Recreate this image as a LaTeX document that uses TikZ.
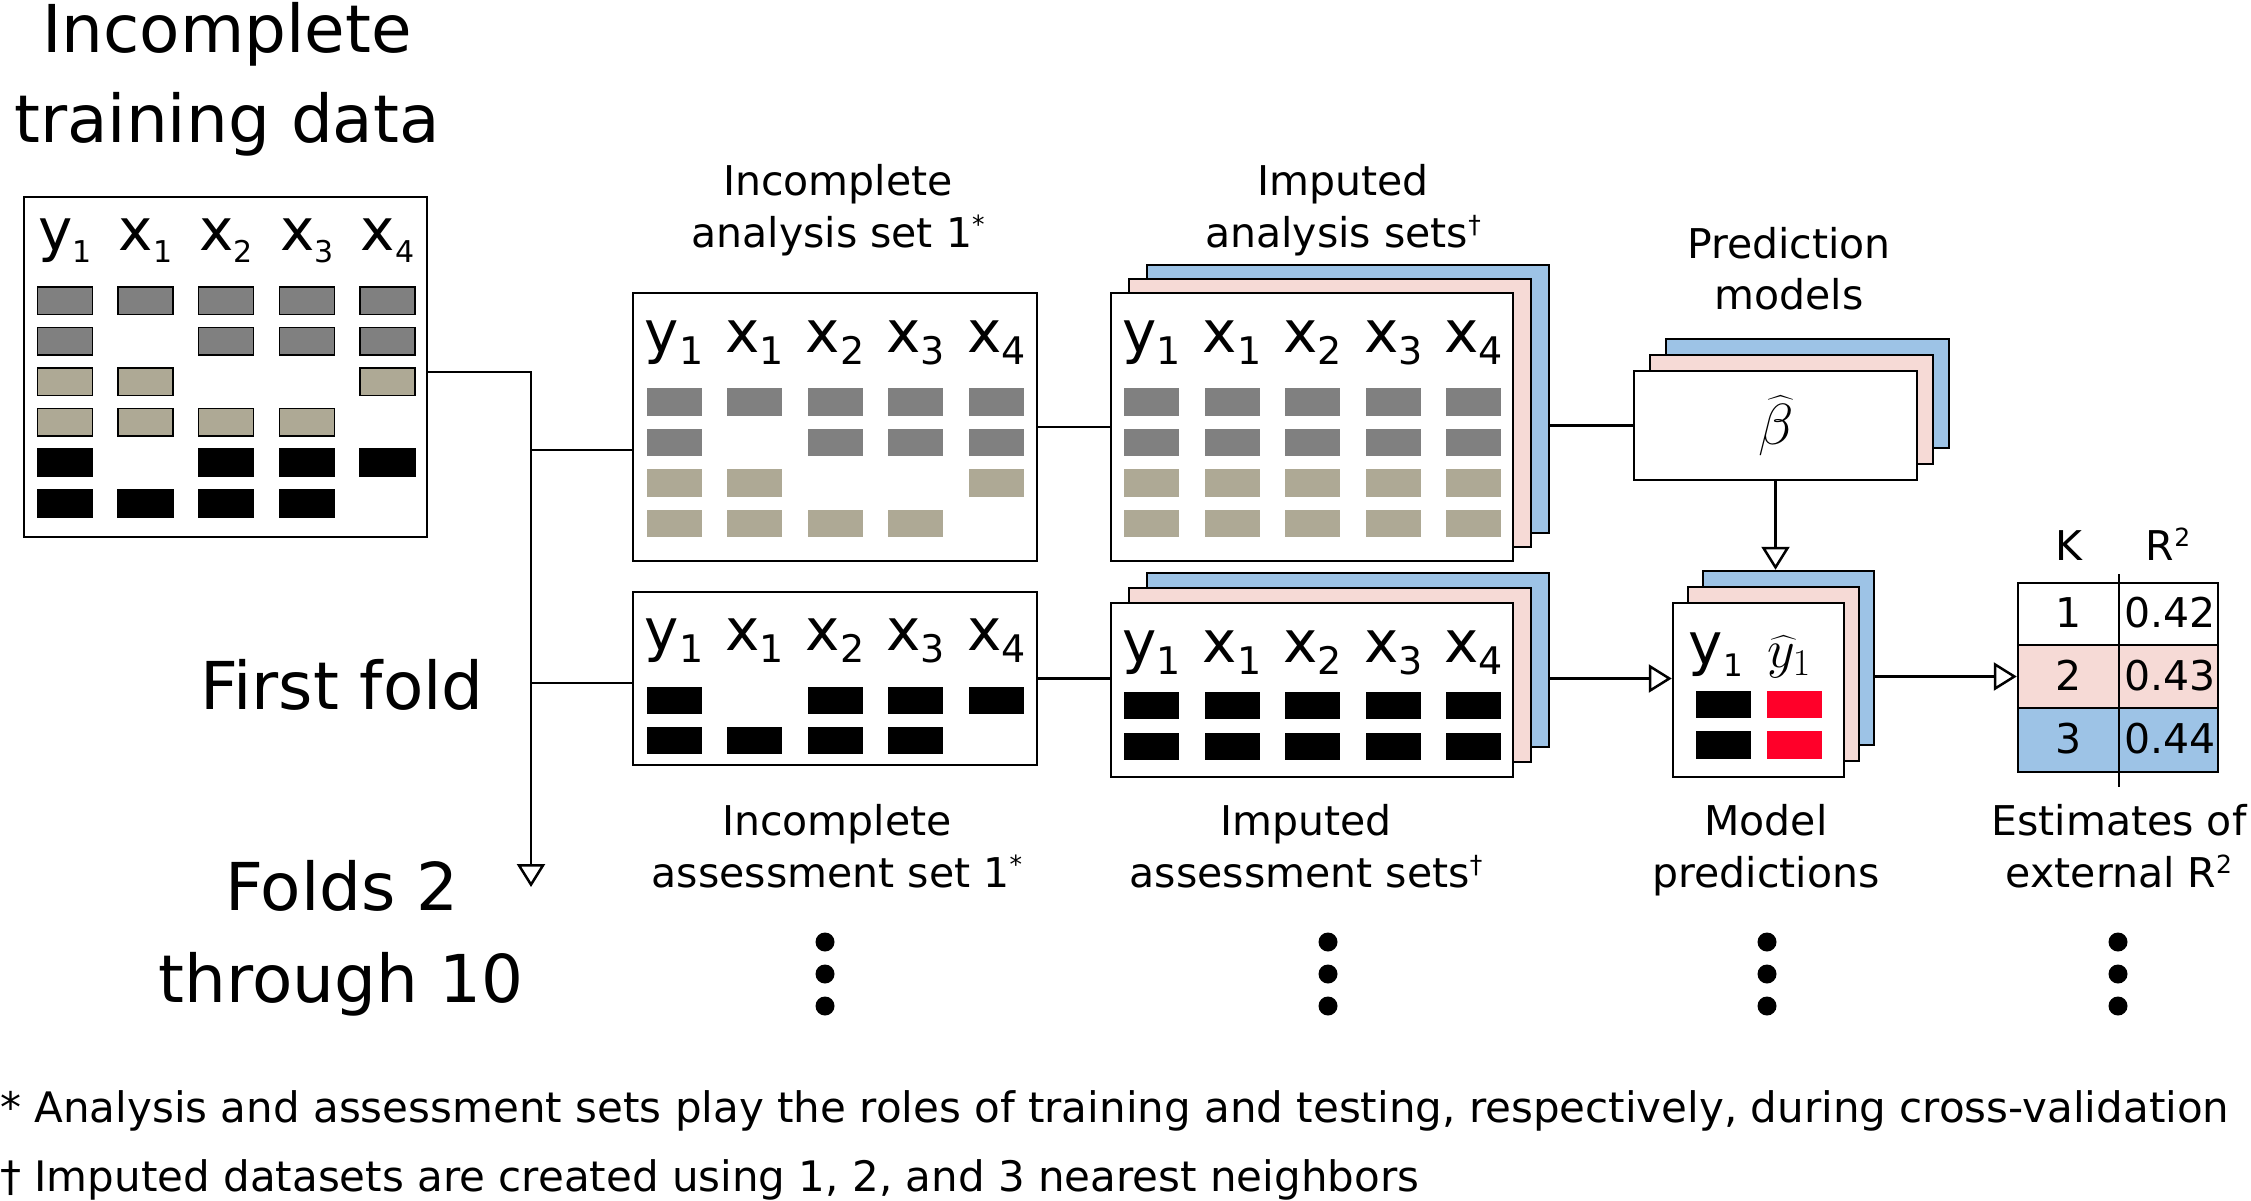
\RequirePackage{fix-cm}
\documentclass[tikz,border=0pt]{standalone}
\usepackage{exscale}
\usepackage[no-math]{fontspec}
\setmainfont{DejaVu Sans}
\usetikzlibrary{arrows.meta}
\definecolor{cgray}{RGB}{128,128,128}
\definecolor{ctan}{RGB}{174,169,149}
\definecolor{cpink}{RGB}{246,218,214}
\definecolor{cblue}{RGB}{157,195,230}
\definecolor{cred}{RGB}{255,0,41}
\newcommand{\fsz}[1]{\fontsize{#1}{#1}\selectfont}
\newcommand{\hsub}[2]{\raisebox{-0.22em}{\fsz{#1}#2}}
\newcommand{\mysup}[1]{\raisebox{0.32em}{\fsz{25}#1}}
\newcommand{\cellr}[4]{\path[#4] ({#1-27.5},{#2-13.75}) rectangle ({#1+27.5},{#2+13.75});}
\begin{document}
\begin{tikzpicture}[x=1pt,y=-1pt,
  box/.style={draw=black,line width=2.5pt,fill=white,inner sep=0pt},
  lab/.style={font=\fsz{41},inner sep=0pt,anchor=base},
  big/.style={font=\fsz{66},inner sep=0pt,anchor=base},
  hd/.style={font=\fsz{58},inner sep=0pt,anchor=base},
  foot/.style={font=\fsz{42},inner sep=0pt,anchor=base west},
  conn/.style={line width=2.5pt},
  arr/.style={conn,-{Triangle[open,length=23pt,width=28pt]}}]
\fill[white] (0,0) rectangle (2251,1200);
\useasboundingbox (0,0) rectangle (2251,1200);

% ---------- titles and side labels
\node[big] (t1) at (227,52) {Incomplete};
\node[big] (t2) at (227,142) {training data};
\node[big] (ff) at (342,709) {First fold};
\node[big] (f2a) at (342,910) {Folds 2};
\node[big] (f2b) at (341,1002) {through 10};

% ---------- training data box
\node[box,minimum width=403pt,minimum height=340pt] (train) at (225.5,367) {};
\foreach \vl/\vs [count=\i from 0] in {y/1,x/1,x/2,x/3,x/4}{
  \node[hd] (trh\i) at ({65+80.6*\i},250) {\vl\hsub{30}{\vs}};}
\foreach \j/\c/\cols in {0/cgray/{0,1,2,3,4},1/cgray/{0,2,3,4},2/ctan/{0,1,4},3/ctan/{0,1,2,3},4/black/{0,2,3,4},5/black/{0,1,2,3}}{
  \foreach \i in \cols {\cellr{65+80.6*\i}{300.5+40.6*\j}{}{fill=\c,draw=black,line width=1.5pt}}}

% ---------- incomplete analysis set
\node[box,minimum width=404pt,minimum height=268pt] (ana) at (835,427) {};
\foreach \vl/\vs [count=\i from 0] in {y/1,x/1,x/2,x/3,x/4}{
  \node[hd] (anh\i) at ({674+80.6*\i},352) {\vl\hsub{38}{\vs}};}
\foreach \j/\c/\cols in {0/cgray/{0,1,2,3,4},1/cgray/{0,2,3,4},2/ctan/{0,1,4},3/ctan/{0,1,2,3}}{
  \foreach \i in \cols {\cellr{674+80.6*\i}{402+40.5*\j}{}{fill=\c}}}

% ---------- imputed analysis sets
\node[box,fill=cblue,minimum width=402pt,minimum height=268pt] (impaB) at (1348,399) {};
\node[box,fill=cpink,minimum width=402pt,minimum height=268pt] (impaP) at (1330,413) {};
\node[box,minimum width=402pt,minimum height=268pt] (impa) at (1312,427) {};
\foreach \vl/\vs [count=\i from 0] in {y/1,x/1,x/2,x/3,x/4}{
  \node[hd] (iah\i) at ({1151.5+80.6*\i},352) {\vl\hsub{38}{\vs}};}
\foreach \j/\c in {0/cgray,1/cgray,2/ctan,3/ctan}{
  \foreach \i in {0,1,2,3,4} {\cellr{1151.5+80.6*\i}{402+40.5*\j}{}{fill=\c}}}

% ---------- incomplete assessment set
\node[box,minimum width=404pt,minimum height=173pt] (ass) at (835,678.5) {};
\foreach \vl/\vs [count=\i from 0] in {y/1,x/1,x/2,x/3,x/4}{
  \node[hd] (ash\i) at ({674+80.6*\i},650) {\vl\hsub{38}{\vs}};}
\foreach \j/\cols in {0/{0,2,3,4},1/{0,1,2,3}}{
  \foreach \i in \cols {\cellr{674+80.6*\i}{700.5+40*\j}{}{fill=black}}}

% ---------- imputed assessment sets
\node[box,fill=cblue,minimum width=402pt,minimum height=174pt] (impbB) at (1348,660) {};
\node[box,fill=cpink,minimum width=402pt,minimum height=174pt] (impbP) at (1330,675) {};
\node[box,minimum width=402pt,minimum height=174pt] (impb) at (1312,690) {};
\foreach \vl/\vs [count=\i from 0] in {y/1,x/1,x/2,x/3,x/4}{
  \node[hd] (ibh\i) at ({1151.5+80.6*\i},662) {\vl\hsub{38}{\vs}};}
\foreach \j in {0,1}{
  \foreach \i in {0,1,2,3,4} {\cellr{1151.5+80.6*\i}{705.5+41*\j}{}{fill=black}}}

% ---------- prediction models
\node[box,fill=cblue,minimum width=283pt,minimum height=109pt] (pmB) at (1807.5,393.5) {};
\node[box,fill=cpink,minimum width=283pt,minimum height=109pt] (pmP) at (1791.5,409.5) {};
\node[box,minimum width=283pt,minimum height=109pt] (pm) at (1775.5,425.5) {};
\node[inner sep=0pt] (beta) at (1776,426) {\fsz{58}$\widehat{\beta}$};

% ---------- model predictions
\node[box,fill=cblue,minimum width=171pt,minimum height=174pt] (mpB) at (1788.5,658) {};
\node[box,fill=cpink,minimum width=171pt,minimum height=174pt] (mpP) at (1773.5,674) {};
\node[box,minimum width=171pt,minimum height=174pt] (mp) at (1758.5,690) {};
\node[hd] (mpy) at (1716,664) {y\hsub{31}{1}};
\node[inner sep=0pt,anchor=base] (mpyh) at (1789,667) {\fsz{54}$\widehat{y}_1$};
\foreach \j in {0,1}{
  \cellr{1723}{704.5+40.5*\j}{}{fill=black}
  \cellr{1794.5}{704.5+40.5*\j}{}{fill=cred}}

% ---------- table of R2
\node[box,minimum width=200pt,minimum height=62pt] (r1) at (2118,614) {};
\node[box,fill=cpink,minimum width=200pt,minimum height=63pt] (r2) at (2118,676.5) {};
\node[box,fill=cblue,minimum width=200pt,minimum height=64pt] (r3) at (2118,740) {};
\coordinate (dv1) at (2119,574);
\coordinate (dv2) at (2119,787);
\draw[conn] (dv1) -- (dv2);
\node[lab] (kh) at (2069,560) {K};
\node[lab] (rh) at (2168,560) {R\mysup{2}};
\node[lab] (k1) at (2069,627) {1};
\node[lab] (v1) at (2170,627) {0.42};
\node[lab] (k2) at (2069,690) {2};
\node[lab] (v2) at (2170,690) {0.43};
\node[lab] (k3) at (2069,753) {3};
\node[lab] (v3) at (2170,753) {0.44};

% ---------- labels
\node[lab] (la1) at (838,195) {Incomplete};
\node[lab] (la2) at (838,247) {analysis set 1\mysup{*}};
\node[lab] (lb1) at (1343,195) {Imputed};
\node[lab] (lb2) at (1343,247) {analysis sets\mysup{†}};
\node[lab] (lc1) at (1789,258) {Prediction};
\node[lab] (lc2) at (1789,309) {models};
\node[lab] (ld1) at (837,835) {Incomplete};
\node[lab] (ld2) at (837,887) {assessment set 1\mysup{*}};
\node[lab] (le1) at (1306,835) {Imputed};
\node[lab] (le2) at (1306,887) {assessment sets\mysup{†}};
\node[lab] (lf1) at (1766,835) {Model};
\node[lab] (lf2) at (1766,887) {predictions};
\node[lab] (lg1) at (2119,835) {Estimates of};
\node[lab] (lg2) at (2119,887) {external R\mysup{2}};

% ---------- dots
\foreach \x in {825,1328,1767,2118}{
  \foreach \y in {942,974,1006}{\fill (\x,\y) circle (9.5pt);}}

% ---------- footnotes
\node[foot] (fn1) at (0,1122) {* Analysis and assessment sets play the roles of training and testing, respectively, during cross-validation};
\node[foot] (fn2) at (0,1191) {† Imputed datasets are created using 1, 2, and 3 nearest neighbors};

% ---------- connectors
\coordinate (j0) at (531,372);
\coordinate (j1) at (531,450);
\coordinate (j2) at (531,683);
\coordinate (jend) at (531,887);
\draw[arr] (train.east |- j0) -- (j0) -- (jend);
\draw[conn] (j1) -- (j1 -| ana.west);
\draw[conn] (j2) -- (j2 -| ass.west);
\draw[conn] (ana.east) -- (impa.west);
\draw[conn] (impaB.east |- pm.west) -- (pm.west);
\draw[arr] (pm.south) -- (pm.south |- mpB.north);
\draw[conn] (ass.east) -- (ass.east -| impb.west);
\draw[arr] (impbB.east |- ass.east) -- (ass.east -| mp.west);
\draw[arr] (mpB.east |- r2.west) -- (r2.west);
\end{tikzpicture}
\end{document}
